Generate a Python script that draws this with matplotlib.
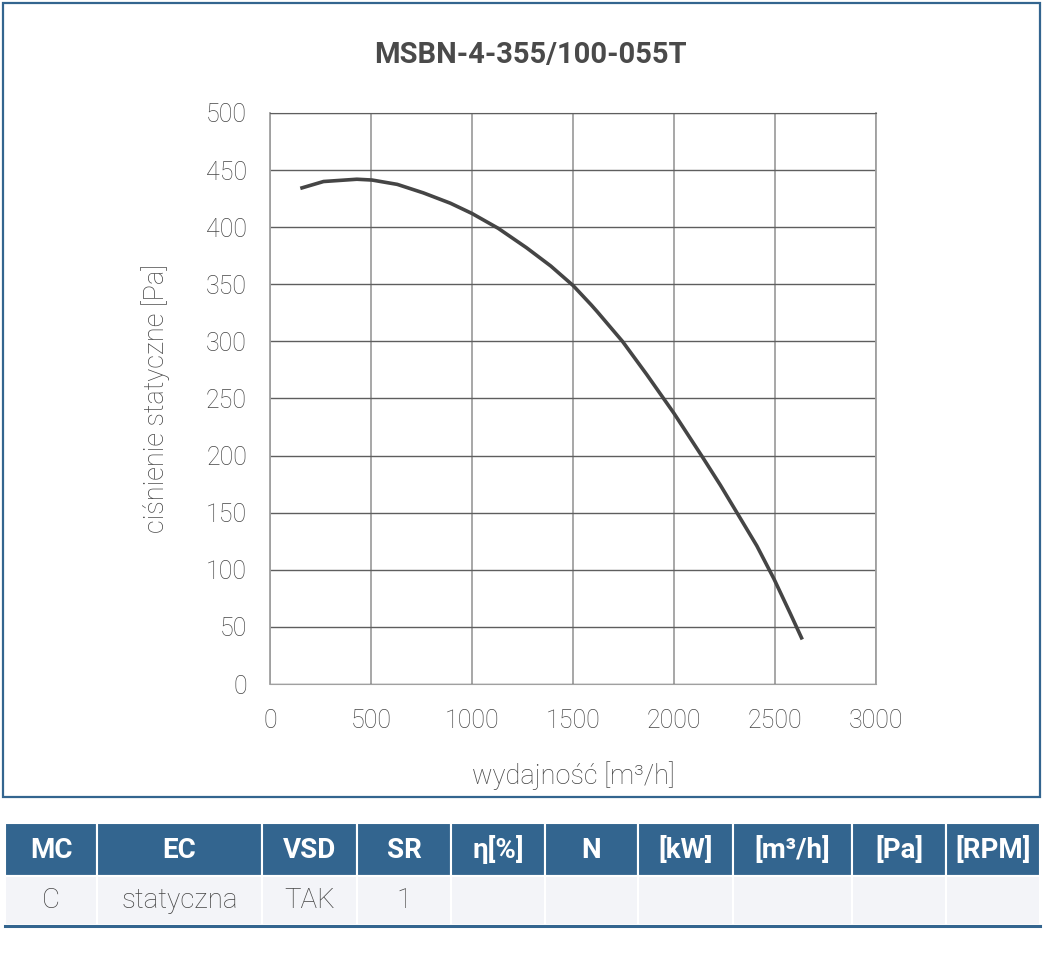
import matplotlib.pyplot as plt
from matplotlib.patches import Rectangle

plt.rcParams["font.family"] = ["Roboto", "DejaVu Sans"]

title = "MSBN-4-355/100-055T"
flow = [150, 265, 430, 505, 630, 760, 893, 1000, 1130, 1270, 1390, 1500, 1590,
        1620, 1745, 1865, 2000, 2140, 2230, 2315, 2410, 2495, 2575, 2635]
pressure = [434, 440, 442, 441.3, 437.5, 430, 421, 412, 399, 382, 366, 349, 332,
            326, 300, 271, 237, 199, 174, 149, 121, 92, 62, 39]
x_ticks = [0, 500, 1000, 1500, 2000, 2500, 3000]
y_ticks = [0, 50, 100, 150, 200, 250, 300, 350, 400, 450, 500]

header = ["MC", "EC", "VSD", "SR", "η[%]", "N", "[kW]", "[m³/h]", "[Pa]", "[RPM]"]
row = ["C", "statyczna", "TAK", "1", "", "", "", "", "", ""]

W, H = 1043, 957
BLUE = "#33658f"
TEXT = "#454545"

fig = plt.figure(figsize=(W / 100, H / 100), dpi=100)

# overlay in pixel coordinates for the frame and the table
bg = fig.add_axes([0, 0, 1, 1])
bg.set_xlim(0, W)
bg.set_ylim(H, 0)
bg.axis("off")
bg.add_patch(Rectangle((3, 3), 1037, 794, fill=False, ec=BLUE, lw=1.6))

col_edges = [5, 97, 262, 357, 451, 545, 638, 733, 852, 946, 1040]
for i in range(len(header)):
    x0, x1 = col_edges[i], col_edges[i + 1]
    bg.add_patch(Rectangle((x0, 823), x1 - x0, 53, fc=BLUE, ec="white", lw=1.5))
    bg.add_patch(Rectangle((x0, 876), x1 - x0, 49, fc="#f3f4f8", ec="white", lw=1.5))
    xc = (x0 + x1) / 2
    bg.text(xc, 850, header[i], color="white", fontsize=20, fontweight="bold",
            ha="center", va="center")
    bg.text(xc, 901, row[i], color=TEXT, fontsize=20, fontweight="light",
            ha="center", va="center")
bg.plot([5, 1040], [925.5, 925.5], color=BLUE, lw=2.2)

ax = fig.add_axes([270 / W, 1 - 684 / H, 606 / W, 571 / H])
ax.plot(flow, pressure, color="#454545", lw=2.6, solid_capstyle="butt")
ax.set_xlim(0, 3000)
ax.set_ylim(0, 500)
ax.set_xticks(x_ticks)
ax.set_yticks(y_ticks)
for v in x_ticks:
    ax.axvline(v, color="#a0a0a0", lw=1.3, zorder=0)
for v in y_ticks:
    ax.axhline(v, color="#5e5e5e", lw=1.0, zorder=0)
for s in ["left", "right"]:
    ax.spines[s].set_color("#a0a0a0")
    ax.spines[s].set_linewidth(1.3)
ax.spines["top"].set_color("#5e5e5e")
ax.spines["bottom"].set_color("#a0a0a0")
ax.tick_params(length=0, labelsize=18, labelcolor=TEXT)
ax.tick_params(axis="x", pad=18)
ax.tick_params(axis="y", pad=16.5)
for lab in ax.get_xticklabels() + ax.get_yticklabels():
    lab.set_fontweight("light")
ax.set_xlabel("wydajność [m³/h]", fontsize=19.5, color=TEXT, fontweight="light", labelpad=20)
ax.set_ylabel("ciśnienie statyczne [Pa]", fontsize=19.5, color=TEXT, fontweight="light", labelpad=26)

fig.text(530 / W, 1 - 55 / H, title, fontsize=21, fontweight="bold", color="#4a4a4a",
         ha="center", va="center")

fig.savefig("out.png", dpi=100)
